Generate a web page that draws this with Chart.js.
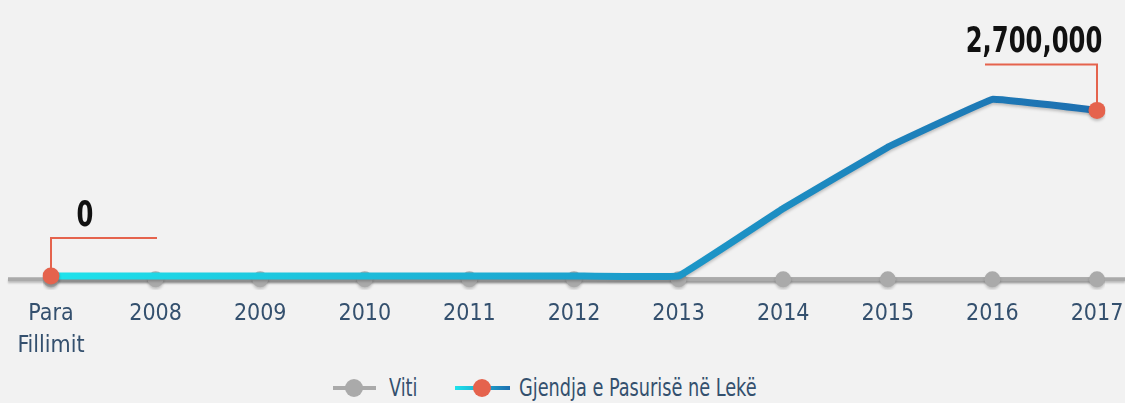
<!DOCTYPE html>
<html>
<head>
<meta charset="utf-8">
<script src="https://cdn.jsdelivr.net/npm/chart.js@4.4.0/dist/chart.umd.min.js"></script>
<style>
  html, body { margin: 0; padding: 0; background: #f2f2f2; }
  #wrap { position: relative; width: 1125px; height: 403px; overflow: hidden; }
  #box { position: absolute; left: 0; top: 0; width: 1125px; height: 370px; }
  #legend { position: absolute; left: 0; top: 373px; width: 1125px; height: 30px;
    font-family: "DejaVu Sans Condensed", sans-serif; font-size: 24px; color: #34506e; }
  .sym { position: absolute; top: 6px; height: 18px; }
  .sym .ln { position: absolute; left: 0; right: 0; top: 7px; height: 4px; }
  .sym .dot { position: absolute; top: 0; width: 18px; height: 18px; border-radius: 50%; }
  .txt { position: absolute; top: 0; line-height: 30px; white-space: nowrap; transform: scaleX(0.82); transform-origin: left center; }
</style>
</head>
<body>
<div id="wrap">
  <div id="box"><canvas id="assetsLine"></canvas></div>
  <div id="legend">
    <div class="sym" style="left:333px;width:43px"><div class="ln" style="background:#aaaaaa"></div><div class="dot" style="left:12px;background:#aaaaaa"></div></div>
    <span class="txt" style="left:389px">Viti</span>
    <div class="sym" style="left:455px;width:55px"><div class="ln" style="background:linear-gradient(to right,#1ee3ec,#1e6fb0)"></div><div class="dot" style="left:18px;background:#e5634d"></div></div>
    <span class="txt" style="left:519px">Gjendja e Pasurisë në Lekë</span>
  </div>
</div>
<script>
const years = [['Para', 'Fillimit'], '2008', '2009', '2010', '2011', '2012', '2013', '2014', '2015', '2016', '2017'];
const vitiValues = [0, 0, 0, 0, 0, 0, 0, 0, 0, 0, 0];
const assetValues = [0, 0, 0, 0, 0, 0, 0, 1100000, 2100000, 2880000, 2700000];
const labelledPoints = [0, 10];

const font = '"DejaVu Sans Condensed", sans-serif';
const red = '#e5634d';
const gray = '#aaaaaa';

const assetsChartElem = document.getElementById('assetsLine').getContext('2d');

const blueGradient = (ctx) => {
  const area = ctx.chart.chartArea;
  if (!area) return '#1e8fc4';
  const g = ctx.chart.ctx.createLinearGradient(area.left, 0, area.right, 0);
  g.addColorStop(0, '#1ee3ec');
  g.addColorStop(0.55, '#1c9ccb');
  g.addColorStop(1, '#1e6fb0');
  return g;
};

// gray base line runs past the first and last year
const baseLine = {
  id: 'baseLine',
  beforeDatasetsDraw(chart) {
    const c = chart.ctx;
    const y = chart.scales.yv.getPixelForValue(0);
    c.save();
    c.strokeStyle = gray;
    c.lineWidth = 4;
    c.shadowColor = 'rgba(0,0,0,0.2)';
    c.shadowOffsetY = 2;
    c.shadowBlur = 2;
    c.beginPath();
    c.moveTo(8, y);
    c.lineTo(chart.width, y);
    c.stroke();
    c.restore();
  },
  beforeDatasetDraw(chart) {
    const c = chart.ctx;
    c.save();
    c.shadowColor = 'rgba(0,0,0,0.22)';
    c.shadowOffsetY = 2;
    c.shadowBlur = 3;
  },
  afterDatasetDraw(chart) {
    chart.ctx.restore();
  }
};

// red leader lines with value labels
const leaders = {
  id: 'leaders',
  afterDatasetsDraw(chart) {
    const c = chart.ctx;
    const meta = chart.getDatasetMeta(1);
    c.save();
    c.strokeStyle = red;
    c.lineWidth = 2;
    c.fillStyle = '#111111';
    c.textAlign = 'center';
    c.textBaseline = 'alphabetic';
    labelledPoints.forEach((i, k) => {
      const p = meta.data[i];
      const v = assetValues[i];
      const up = k === 0 ? 38 : 46;
      const dx = k === 0 ? 106 : -112;
      c.beginPath();
      c.moveTo(p.x, p.y);
      c.lineTo(p.x, p.y - up);
      c.lineTo(p.x + dx, p.y - up);
      c.stroke();
      c.font = 'bold 35px ' + font;
      const tx = k === 0 ? p.x + 34 : p.x - 63;
      c.save();
      c.translate(tx, p.y - up - 12);
      c.scale(0.77, 1);
      c.fillText(v.toLocaleString('en-US'), 0, 0);
      c.restore();
    });
    c.restore();
  }
};

const assetsData = {
  labels: years,
  datasets: [
    {
      label: 'Viti',
      data: vitiValues,
      yAxisID: 'yv',
      borderColor: gray,
      borderWidth: 4,
      pointRadius: 8,
      pointBackgroundColor: gray,
      pointBorderWidth: 0,
      order: 2,
    },
    {
      label: 'Gjendja e Pasurisë në Lekë',
      data: assetValues,
      yAxisID: 'y',
      borderColor: blueGradient,
      borderWidth: 7,
      borderJoinStyle: 'round',
      tension: 0.05,
      pointRadius: assetValues.map((v, i) => labelledPoints.includes(i) ? 8.5 : 0),
      pointBackgroundColor: red,
      pointBorderWidth: 0,
      order: 1,
    }
  ]
};

const assetsConfig = {
  type: 'line',
  data: assetsData,
  plugins: [baseLine, leaders],
  options: {
    responsive: true,
    maintainAspectRatio: false,
    animation: false,
    layout: { padding: { left: 51, right: 28, top: 0, bottom: 0 } },
    scales: {
      x: {
        grid: { display: false, drawTicks: false },
        border: { display: false },
        ticks: { color: '#34506e', font: { family: font, size: 23, lineHeight: 1.35 }, padding: 9, maxRotation: 0, autoSkip: false },
        afterFit(scale) { scale.height = 80; scale.paddingLeft = 0; scale.paddingRight = 0; },
      },
      y: { display: false, min: -230000, max: 4362000 },
      yv: { display: false, min: -11, max: 279 },
    },
    plugins: {
      legend: { display: false },
      title: { display: false },
      tooltip: { enabled: false },
    }
  },
};

const assetsChart = new Chart(assetsChartElem, assetsConfig);
</script>
</body>
</html>
